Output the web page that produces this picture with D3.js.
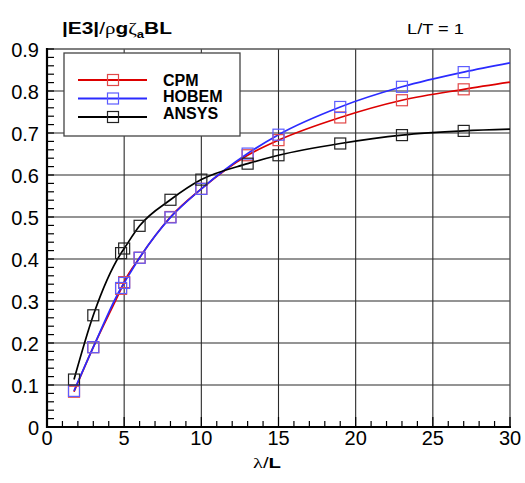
<!DOCTYPE html>
<html>
<head>
<meta charset="utf-8">
<script src="https://cdn.jsdelivr.net/npm/d3@7"></script>
<style>
  html, body { margin: 0; padding: 0; background: #fff; }
  svg { display: block; }
  text { font-family: "Liberation Sans", Arial, sans-serif; }
</style>
</head>
<body>
<svg id="chart" width="525" height="483"></svg>
<script>
// Wave-length ratio at which each method was evaluated (marker positions)
const lambdaL = [1.75, 3, 4.8, 5, 6, 8, 10, 13, 15, 19, 23, 27];
// Curve end at the right edge of the domain
const lambdaEnd = 30;

// |E3| / (rho g zeta_a B L) for each method
const cpm    = [0.084, 0.190, 0.329, 0.345, 0.403, 0.500, 0.567, 0.647, 0.683, 0.737, 0.778, 0.804];
const hobem  = [0.086, 0.190, 0.331, 0.343, 0.403, 0.499, 0.567, 0.651, 0.696, 0.762, 0.810, 0.845];
const ansys  = [0.113, 0.266, 0.414, 0.425, 0.479, 0.541, 0.589, 0.627, 0.647, 0.675, 0.695, 0.705];
const endValues = { CPM: 0.821, HOBEM: 0.867, ANSYS: 0.709 };

const seriesNames = ["CPM", "HOBEM", "ANSYS"];
const xTickLabels = [0, 5, 10, 15, 20, 25, 30];
const yTickLabels = [0, 0.1, 0.2, 0.3, 0.4, 0.5, 0.6, 0.7, 0.8, 0.9];

const styles = {
  CPM:   { line: "#dd0000", marker: "#e24848" },
  HOBEM: { line: "#2b2bff", marker: "#5c5cff" },
  ANSYS: { line: "#000000", marker: "#222222" }
};

const series = [
  { name: "CPM", values: cpm },
  { name: "HOBEM", values: hobem },
  { name: "ANSYS", values: ansys }
];

const svg = d3.select("#chart");
const plot = { left: 47, right: 510, top: 49, bottom: 427 };

const x = d3.scaleLinear().domain([0, 30]).range([plot.left, plot.right]);
const y = d3.scaleLinear().domain([0, 0.9]).range([plot.bottom, plot.top]);

// Grid lines
const grid = svg.append("g").attr("stroke", "#2a2a2a").attr("stroke-width", 1.1);
grid.selectAll("line.gx")
  .data(xTickLabels.filter(d => d > 0 && d < 30))
  .join("line")
  .attr("x1", d => x(d)).attr("x2", d => x(d))
  .attr("y1", plot.top).attr("y2", plot.bottom);
grid.selectAll("line.gy")
  .data(yTickLabels.filter(d => d > 0 && d < 0.9))
  .join("line")
  .attr("x1", plot.left).attr("x2", plot.right)
  .attr("y1", d => y(d)).attr("y2", d => y(d));

// Frame (top and right thinner, grey)
svg.append("line").attr("x1", plot.left).attr("x2", plot.right)
  .attr("y1", plot.top).attr("y2", plot.top)
  .attr("stroke", "#555").attr("stroke-width", 1.4);
svg.append("line").attr("x1", plot.right).attr("x2", plot.right)
  .attr("y1", plot.top).attr("y2", plot.bottom)
  .attr("stroke", "#555").attr("stroke-width", 1.4);

// Minor / major ticks pointing inward
const ticks = svg.append("g").attr("stroke", "#000").attr("stroke-width", 1.2);
ticks.selectAll("line.tx")
  .data(x.ticks(30))
  .join("line")
  .attr("x1", d => x(d)).attr("x2", d => x(d))
  .attr("y1", plot.bottom)
  .attr("y2", d => plot.bottom - (d % 5 === 0 ? 10 : 6));
ticks.selectAll("line.ty")
  .data(y.ticks(45))
  .join("line")
  .attr("y1", d => y(d)).attr("y2", d => y(d))
  .attr("x1", plot.left)
  .attr("x2", plot.left + 7);

// Axis lines (bold)
svg.append("line").attr("x1", plot.left).attr("x2", plot.left)
  .attr("y1", plot.top - 1).attr("y2", plot.bottom + 1)
  .attr("stroke", "#000").attr("stroke-width", 2.2);
svg.append("line").attr("x1", plot.left - 1).attr("x2", plot.right + 1)
  .attr("y1", plot.bottom).attr("y2", plot.bottom)
  .attr("stroke", "#000").attr("stroke-width", 2.2);

// Tick labels
svg.append("g").selectAll("text")
  .data(xTickLabels)
  .join("text")
  .attr("x", d => x(d))
  .attr("y", plot.bottom + 18)
  .attr("text-anchor", "middle")
  .attr("font-size", 20)
  .text(d => d);
svg.append("g").selectAll("text")
  .data(yTickLabels)
  .join("text")
  .attr("x", plot.left - 8)
  .attr("y", d => y(d) + 7.5)
  .attr("text-anchor", "end")
  .attr("font-size", 20)
  .text(d => d === 0 ? "0" : d3.format(".1f")(d));

// Curves
const line = d3.line()
  .x(d => x(d[0]))
  .y(d => y(d[1]))
  .curve(d3.curveMonotoneX);

series.forEach(s => {
  const pts = lambdaL.map((l, i) => [l, s.values[i]]);
  pts.push([lambdaEnd, endValues[s.name]]);
  svg.append("path")
    .datum(pts)
    .attr("fill", "none")
    .attr("stroke", styles[s.name].line)
    .attr("stroke-width", 1.7)
    .attr("d", line);
});

// Square markers
const ms = 11;
series.forEach(s => {
  svg.append("g").selectAll("rect")
    .data(lambdaL.map((l, i) => [l, s.values[i]]))
    .join("rect")
    .attr("x", d => x(d[0]) - ms / 2)
    .attr("y", d => y(d[1]) - ms / 2)
    .attr("width", ms).attr("height", ms)
    .attr("fill", "none")
    .attr("stroke", styles[s.name].marker)
    .attr("stroke-width", 1.2);
});

// Legend
const lg = svg.append("g");
lg.append("rect")
  .attr("x", 64).attr("y", 53).attr("width", 176).attr("height", 83)
  .attr("fill", "#fff").attr("stroke", "#444").attr("stroke-width", 1.3);
seriesNames.forEach((name, i) => {
  const ly = 80 + i * 18.5;
  lg.append("line")
    .attr("x1", 78).attr("x2", 147).attr("y1", ly).attr("y2", ly)
    .attr("stroke", styles[name].line).attr("stroke-width", 1.8);
  lg.append("rect")
    .attr("x", 113 - ms / 2).attr("y", ly - ms / 2)
    .attr("width", ms).attr("height", ms)
    .attr("fill", "none")
    .attr("stroke", styles[name].marker).attr("stroke-width", 1.2);
  lg.append("text")
    .attr("x", 163).attr("y", 85.5 + i * 16.5)
    .attr("font-size", 16)
    .attr("font-weight", "bold")
    .text(name);
});

// Stretch a label horizontally to a given width, keeping its left edge
function fitWidth(sel, left, baseline, width) {
  const w = sel.node().getComputedTextLength();
  sel.attr("transform", `translate(${left},${baseline}) scale(${width / w},1)`);
}

// Title
const title = svg.append("text")
  .attr("font-size", 16)
  .attr("font-weight", "bold");
title.append("tspan").text("|E3|");
title.append("tspan").attr("font-weight", "normal").text("/");
title.append("tspan").attr("font-family", "Liberation Serif").attr("font-weight", "normal").text("ρ");
title.append("tspan").text("g");
title.append("tspan").attr("font-family", "Liberation Serif").attr("font-weight", "normal").text("ζ");
title.append("tspan").attr("font-size", 10).attr("dy", 4).text("a");
title.append("tspan").attr("dy", -4).text("BL");
fitWidth(title, 62, 34, 110);

const lt = svg.append("text")
  .attr("font-size", 15)
  .text("L/T = 1");
fitWidth(lt, 407, 34, 57);

// X-axis title
const xt = svg.append("text")
  .attr("font-size", 14.5);
xt.append("tspan").attr("font-family", "Liberation Serif").text("λ");
xt.append("tspan").text("/");
xt.append("tspan").attr("font-weight", "bold").text("L");
fitWidth(xt, 253, 468, 28);
</script>
</body>
</html>
